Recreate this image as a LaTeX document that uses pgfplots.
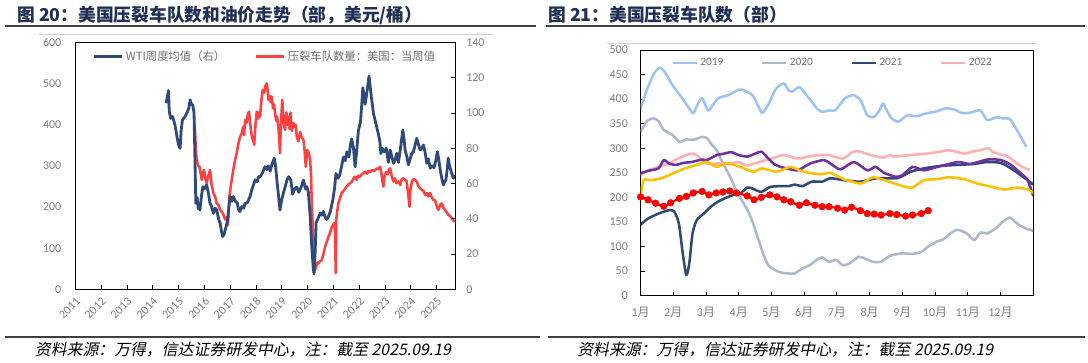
\documentclass[border=0pt]{standalone}
\usepackage{fontspec}
\setmainfont{Carlito}
\newfontfamily\cjk{Noto Sans CJK SC}
\newfontfamily\cjksl[FakeSlant=0.2]{Noto Sans CJK SC}
\usepackage{pgfplots}
\pgfplotsset{compat=1.18}
\definecolor{cWTI}{HTML}{2F4A7A}
\definecolor{cRed}{HTML}{FF4040}
\definecolor{cTick}{HTML}{808080}
\definecolor{cLeg}{HTML}{707070}
\definecolor{cTitle}{HTML}{1F3056}
\definecolor{cRule}{HTML}{404040}
\definecolor{cFrame}{HTML}{D0D0D0}
\definecolor{c19}{HTML}{9DC3F5}
\definecolor{c20}{HTML}{ADB9CA}
\definecolor{c21}{HTML}{2F4A7A}
\definecolor{c22}{HTML}{FFB0B0}
\definecolor{c23}{HTML}{7030A0}
\definecolor{c24}{HTML}{FFC000}
\definecolor{c25}{HTML}{FF0000}
\pgfplotsset{base/.style={
  scale only axis,
  axis line style={black, line width=0.6pt},
  tick style={black, line width=0.6pt},
  ticklabel style={font=\fontsize{9}{10}\selectfont, text=cTick},
  /pgf/number format/assume math mode=true,
  /pgf/number format/1000 sep={},
  tick align=inside,
  major tick length=3pt,
}}
\begin{document}
\begin{tikzpicture}
\useasboundingbox (0,0) rectangle (816pt,272.25pt);
\fill[white] (0,0) rectangle (816pt,272.25pt);
% titles
\node[anchor=west, inner sep=0, text=cTitle, font=\cjk\bfseries\fontsize{13.3}{15}\selectfont] at (12.75pt,261pt) {图 20：美国压裂车队数和油价走势（部，美元/桶）};
\draw[cRule, line width=0.9pt] (3.75pt,252.75pt) -- (402pt,252.75pt);
\node[anchor=west, inner sep=0, text=cTitle, font=\cjk\bfseries\fontsize{13.3}{15}\selectfont] at (411pt,261pt) {图 21：美国压裂车队数（部）};
\draw[cRule, line width=0.9pt] (409.5pt,252.75pt) -- (813.75pt,252.75pt);
\draw[cFrame, line width=0.75pt] (29.4pt,246.5pt) -- (370pt,246.5pt);
\draw[cFrame, line width=0.75pt] (454.9pt,239.8pt) -- (778pt,239.8pt);
% footers
\draw[cRule, line width=0.9pt] (3.75pt,19.5pt) -- (405pt,19.5pt);
\draw[cRule, line width=0.9pt] (411pt,19.5pt) -- (813.75pt,19.5pt);
\node[anchor=west, inner sep=0, font=\cjksl\fontsize{11.9}{13}\selectfont] at (26pt,9.75pt) {资料来源：万得，信达证券研发中心，注：截至 2025.09.19};
\node[anchor=west, inner sep=0, font=\cjksl\fontsize{11.9}{13}\selectfont] at (432.75pt,9.75pt) {资料来源：万得，信达证券研发中心，注：截至 2025.09.19};

% ---------------- left chart, left axis (frac spread count)
\begin{axis}[base,
  at={(56.5pt,55.3pt)}, anchor=south west, width=284.7pt, height=185pt,
  xmin=2011, xmax=2025.71, ymin=0, ymax=600,
  xtick={2011,2012,...,2025}, ytick={0,100,...,600},
  xtick pos=bottom, ytick pos=left,
  ytick style={draw=none},
  yticklabel shift=7pt,
  xticklabel shift=4pt,
  xticklabel style={rotate=45, anchor=north east, inner sep=1pt},
]
\addplot[cRed, line width=1.9pt, line join=round] coordinates {
(2015.61,404)(2015.64,380)(2015.68,330)(2015.71,315)(2015.76,300)(2015.81,298)(2015.86,280)(2015.90,266)(2015.95,285)(2015.99,290)
(2016.04,270)(2016.09,258)(2016.15,275)(2016.22,290)(2016.28,255)(2016.35,234)(2016.42,225)(2016.48,209)(2016.55,205)(2016.61,193)
(2016.68,188)(2016.74,181)(2016.80,170)(2016.85,175)(2016.91,156)(2016.94,190)(2016.97,225)(2017.02,250)(2017.06,266)(2017.12,290)
(2017.19,315)(2017.25,330)(2017.32,355)(2017.38,370)(2017.45,380)(2017.50,395)(2017.54,375)(2017.58,412)(2017.64,405)(2017.68,425)
(2017.73,432)(2017.78,400)(2017.84,371)(2017.90,360)(2017.93,351)(2017.98,400)(2018.03,432)(2018.08,415)(2018.12,430)(2018.16,420)
(2018.21,460)(2018.26,485)(2018.32,478)(2018.37,495)(2018.42,501)(2018.45,485)(2018.48,461)(2018.53,470)(2018.57,455)(2018.61,469)
(2018.66,440)(2018.70,450)(2018.74,428)(2018.78,410)(2018.82,420)(2018.87,392)(2018.90,370)(2018.93,331)(2018.96,390)(2019.00,440)
(2019.02,461)(2019.06,420)(2019.09,395)(2019.13,388)(2019.18,430)(2019.22,400)(2019.26,420)(2019.30,390)(2019.34,430)(2019.39,385)
(2019.45,404)(2019.50,395)(2019.54,400)(2019.58,371)(2019.64,360)(2019.71,383)(2019.77,370)(2019.84,363)(2019.88,340)(2019.93,298)
(2019.99,339)(2020.05,330)(2020.10,315)(2020.13,280)(2020.16,217)(2020.20,150)(2020.23,104)(2020.26,70)(2020.29,47)(2020.33,55)
(2020.38,65)(2020.42,63)(2020.48,68)(2020.55,71)(2020.61,85)(2020.68,104)(2020.74,115)(2020.81,128)(2020.86,135)(2020.94,152)
(2021.00,158)(2021.03,161)(2021.06,150)(2021.09,39)(2021.11,170)(2021.15,190)(2021.19,209)(2021.25,220)(2021.32,234)(2021.40,240)
(2021.46,245)(2021.52,250)(2021.58,255)(2021.65,258)(2021.72,262)(2021.78,270)(2021.84,274)(2021.90,266)(2021.96,276)(2022.04,274)
(2022.10,280)(2022.16,282)(2022.23,286)(2022.30,281)(2022.36,288)(2022.42,285)(2022.50,290)(2022.56,287)(2022.62,290)(2022.68,294)
(2022.74,292)(2022.81,298)(2022.86,282)(2022.90,262)(2022.94,250)(2022.98,275)(2023.04,285)(2023.10,280)(2023.16,292)(2023.20,294)
(2023.26,275)(2023.33,262)(2023.38,270)(2023.44,258)(2023.52,262)(2023.59,254)(2023.65,268)(2023.71,270)(2023.78,266)(2023.84,262)
(2023.90,230)(2023.95,201)(2023.98,240)(2024.04,262)(2024.10,268)(2024.17,266)(2024.23,262)(2024.30,250)(2024.36,246)(2024.42,242)
(2024.48,240)(2024.56,229)(2024.62,234)(2024.68,226)(2024.75,234)(2024.82,222)(2024.88,217)(2024.94,217)(2025.01,201)(2025.07,193)
(2025.14,205)(2025.20,209)(2025.26,198)(2025.33,193)(2025.39,188)(2025.45,181)(2025.52,178)(2025.59,173)(2025.64,168)(2025.69,164)
};
\end{axis}
% ---------------- left chart, right axis (WTI)
\begin{axis}[base,
  at={(56.5pt,55.3pt)}, anchor=south west, width=284.7pt, height=185pt,
  xmin=2011, xmax=2025.71, ymin=0, ymax=140,
  ytick={0,20,...,140},
  axis x line=none, axis y line*=right,
  ytick pos=right, yticklabel pos=right,
  yticklabel shift=5pt,
  legend style={at={(0.5,1)}, anchor=north, yshift=-2pt, draw=none, fill=none,
    legend columns=2, font=\cjk\fontsize{8.5}{10}\selectfont, text=cLeg,
    /tikz/every even column/.append style={column sep=20pt}},
  legend image code/.code={\draw[#1] (0pt,0pt) -- (21pt,0pt);},
]
\addplot[cWTI, line width=2.1pt, line join=round] coordinates {
(2014.52,105.6)(2014.61,112.8)(2014.64,100.8)(2014.70,97)(2014.77,98.0)(2014.86,93.3)(2014.95,85.7)(2015.00,82)(2015.06,80.0)(2015.10,90)
(2015.15,96.1)(2015.25,98)(2015.32,99.9)(2015.40,103)(2015.45,107.5)(2015.50,105)(2015.55,104.6)(2015.60,100)(2015.64,70)(2015.67,48.8)
(2015.72,52)(2015.76,46)(2015.83,45.0)(2015.88,52)(2015.94,58.2)(2016.00,57)(2016.09,59.2)(2016.15,55)(2016.22,48.8)(2016.28,47)
(2016.35,43.1)(2016.42,46)(2016.48,45.0)(2016.55,40)(2016.61,37.5)(2016.66,33)(2016.71,29.9)(2016.76,31)(2016.84,35.5)(2016.90,39)
(2016.95,47)(2017.00,52.6)(2017.06,50)(2017.12,52.6)(2017.20,50)(2017.28,48.8)(2017.33,45)(2017.38,44.1)(2017.45,47)(2017.52,46)
(2017.58,48.8)(2017.66,49)(2017.72,51)(2017.77,52.6)(2017.85,57)(2017.92,60)(2017.97,62.1)(2018.05,61)(2018.10,64)(2018.16,63.9)
(2018.25,66)(2018.35,69.6)(2018.42,68)(2018.48,70)(2018.55,67)(2018.62,71)(2018.71,74.4)(2018.76,70)(2018.81,62.1)(2018.86,55)
(2018.93,45.0)(2019.00,51)(2019.06,54.5)(2019.13,58)(2019.20,62)(2019.26,63.9)(2019.35,62)(2019.42,54)(2019.50,57)(2019.58,58)
(2019.66,55)(2019.75,58)(2019.84,62)(2019.92,57)(2019.97,58.3)(2020.03,55)(2020.10,41.4)(2020.16,24.6)(2020.22,12)(2020.25,8.7)
(2020.29,20)(2020.33,37.7)(2020.40,40)(2020.49,43.3)(2020.55,42)(2020.61,44.2)(2020.68,41)(2020.74,39.6)(2020.80,41)(2020.88,44)
(2020.98,50.8)(2021.05,58)(2021.10,65.7)(2021.18,63)(2021.25,65)(2021.32,70)(2021.39,75.1)(2021.46,73)(2021.52,78)(2021.60,75)
(2021.66,82)(2021.71,85.4)(2021.78,80)(2021.84,69.5)(2021.90,78)(2021.97,90.1)(2022.05,95)(2022.10,105)(2022.14,114.4)(2022.19,110)
(2022.23,105)(2022.30,112)(2022.38,121)(2022.44,113)(2022.49,107)(2022.55,100)(2022.62,95.7)(2022.68,92)(2022.74,88.2)(2022.80,84)
(2022.84,77)(2022.90,80)(2022.97,78)(2023.05,80)(2023.13,72)(2023.20,79)(2023.25,76)(2023.33,71.5)(2023.40,74)(2023.46,77.2)
(2023.52,72)(2023.60,80)(2023.69,90.4)(2023.74,85)(2023.78,79.1)(2023.85,75)(2023.91,70.6)(2023.97,74)(2024.04,77.2)(2024.10,78)
(2024.17,82)(2024.23,85.7)(2024.30,82)(2024.36,79.1)(2024.42,80)(2024.49,81.9)(2024.55,78)(2024.62,71.5)(2024.68,74)(2024.75,68.7)
(2024.82,70)(2024.90,69)(2024.97,73)(2025.03,78.1)(2025.08,74)(2025.14,67.7)(2025.20,63)(2025.26,59.2)(2025.31,61)(2025.36,62.1)
(2025.41,68)(2025.45,74.4)(2025.50,70)(2025.55,67.7)(2025.60,65)(2025.65,63.0)(2025.69,64.9)
};
\addlegendentry{WTI周度均值（右）}
\addlegendimage{cRed, line width=1.9pt}
\addlegendentry{压裂车队数量：美国：当周值}
\end{axis}

% ---------------- right chart
\begin{axis}[base,
  at={(480.4pt,50.5pt)}, anchor=south west, width=294.5pt, height=184.3pt,
  xmin=0, xmax=12, ymin=0, ymax=500,
  ytick={0,50,...,500},
  xtick={0,1,...,11},
  xticklabels={1{\cjk 月},2{\cjk 月},3{\cjk 月},4{\cjk 月},5{\cjk 月},6{\cjk 月},7{\cjk 月},8{\cjk 月},9{\cjk 月},10{\cjk 月},11{\cjk 月},12{\cjk 月}},
  xtick pos=bottom, ytick pos=left,
  yticklabel shift=6pt,
  xticklabel shift=5pt,
  legend style={at={(0.49,1)}, anchor=north, yshift=-2pt, draw=none, fill=none,
    legend columns=4, font=\fontsize{8.5}{10}\selectfont, text=cLeg,
    /tikz/every even column/.append style={column sep=26pt}},
  legend image code/.code={\draw[#1] (0pt,0pt) -- (18pt,0pt);},
  every axis plot/.append style={line width=1.9pt, smooth, tension=0.4, line join=round},
]
\addplot[c19] coordinates {
(0,381)(0.23,425)(0.44,455)(0.6,464)(0.74,455)(0.98,428)(1.24,405)(1.49,381)(1.61,371)(1.75,390)(1.88,402)(2.0,385)(2.09,377)
(2.36,401)(2.68,408)(3.0,419)(3.15,418)(3.42,408)(3.6,385)(3.72,372)(3.9,388)(4.14,421)(4.38,432)(4.5,420)(4.62,415)(4.86,424)
(5.12,404)(5.39,381)(5.55,374)(5.76,377)(5.95,377)(6.24,401)(6.5,408)(6.72,398)(6.93,367)(7.14,364)(7.3,377)(7.41,391)(7.5,380)
(7.67,361)(7.88,354)(8.15,367)(8.42,365)(8.74,371)(9.05,375)(9.32,381)(9.58,379)(9.8,372)(10.06,372)(10.38,377)(10.6,357)
(10.86,363)(11.07,361)(11.29,359)(11.5,337)(11.79,303)
};
\addlegendentry{2019}
\addplot[c20] coordinates {
(0,333)(0.18,354)(0.39,361)(0.55,355)(0.71,337)(0.98,327)(1.19,313)(1.40,318)(1.61,317)(1.88,323)(2.03,320)(2.2,305)(2.33,296)
(2.52,269)(2.74,242)(2.95,210)(3.15,188)(3.3,170)(3.45,145)(3.6,115)(3.75,85)(3.9,62)(4.11,52)(4.3,47)(4.48,45.5)(4.7,45)
(4.96,56)(5.17,62)(5.39,73)(5.55,78)(5.76,69)(5.97,73)(6.18,62)(6.4,66)(6.66,79)(6.85,76)(7.09,69)(7.35,69)(7.62,81)(7.98,86)
(8.31,85)(8.58,89)(8.79,100)(9.05,110)(9.27,115)(9.48,127)(9.69,134)(9.96,127)(10.2,113)(10.38,128)(10.6,127)(10.86,137)
(11.07,150)(11.29,159)(11.5,147)(11.76,137)(12.0,132)
};
\addlegendentry{2020}
\addplot[c21] coordinates {
(0,144)(0.23,157)(0.55,167)(0.87,174)(1.03,171)(1.17,147)(1.29,86)(1.40,42)(1.49,66)(1.59,127)(1.72,154)(1.93,167)(2.15,181)
(2.36,191)(2.57,198)(2.84,205)(3.05,208)(3.26,220)(3.42,218)(3.69,211)(3.95,221)(4.27,223)(4.54,223)(4.7,226)(4.96,223)
(5.23,232)(5.55,232)(5.8,239)(6.21,235)(6.72,232)(7.23,239)(7.85,239)(8.25,252)(8.66,259)(9.17,264)(9.68,266)(10.19,268)
(10.6,272)(11.01,270)(11.32,259)(11.62,245)(11.83,235)(12.0,226)
};
\addlegendentry{2021}
\addplot[c22] coordinates {
(0,245)(0.23,255)(0.55,262)(0.87,269)(1.14,279)(1.40,286)(1.61,289)(1.77,283)(1.93,272)(2.1,268)(2.36,269)(2.74,269)(3.0,272)
(3.26,265)(3.63,272)(4.0,279)(4.38,286)(4.8,279)(5.12,283)(5.44,286)(5.76,286)(6.18,279)(6.5,293)(6.72,293)(7.04,286)(7.41,281)
(7.62,286)(7.78,283)(8.2,286)(8.74,289)(9.16,293)(9.42,296)(9.64,293)(9.9,289)(10.12,293)(10.38,296)(10.63,300)(10.75,293)
(10.96,288)(11.23,283)(11.5,269)(11.76,259)(11.9,256)
};
\addlegendentry{2022}
\addplot[c23, forget plot] coordinates {
(0,249)(0.23,254)(0.55,259)(0.71,276)(0.87,269)(1.08,266)(1.30,270)(1.56,272)(1.88,277)(2.03,276)(2.33,286)(2.55,289)(2.78,292)
(3.0,286)(3.26,283)(3.47,288)(3.69,293)(3.85,283)(4.06,269)(4.27,262)(4.48,259)(4.8,255)(5.19,269)(5.6,276)(5.8,269)(6.11,257)
(6.52,272)(6.93,255)(7.18,262)(7.44,250)(7.79,242)(8.0,245)(8.31,262)(8.66,255)(9.07,262)(9.43,268)(9.73,272)(10.09,268)
(10.6,277)(11.01,276)(11.32,266)(11.62,249)(11.83,235)(12.0,203)
};
\addplot[c24, forget plot] coordinates {
(0,201)(0.09,235)(0.29,235)(0.65,239)(1.0,249)(1.36,259)(1.72,266)(2.03,272)(2.33,262)(2.64,269)(3.05,262)(3.45,252)(3.71,259)
(4.17,252)(4.58,262)(4.99,252)(5.5,247)(5.8,250)(6.21,237)(6.72,228)(6.93,235)(7.13,241)(7.59,232)(8.05,222)(8.31,220)(8.66,235)
(9.07,237)(9.43,241)(9.89,237)(10.3,228)(10.7,222)(11.11,216)(11.52,220)(11.83,216)(12.0,209)
};
\addplot[c25, forget plot, line width=1.6pt, mark=*, mark size=2.5pt, mark options={solid, fill=c25, draw=c25, line width=0.4pt}] coordinates {
(0,201)(0.23,195)(0.46,188)(0.71,182)(0.92,189)(1.19,198)(1.40,202)(1.61,209)(1.88,212)(2.09,205)(2.31,209)(2.52,211)(2.73,213)
(2.94,209)(3.26,203)(3.47,195)(3.69,200)(3.95,205)(4.17,201)(4.38,195)(4.59,191)(4.85,184)(5.07,189)(5.33,184)(5.55,181)(5.76,181)
(6.02,178)(6.24,174)(6.45,180)(6.72,173)(6.93,167)(7.14,166)(7.35,164)(7.62,167)(7.83,165)(8.1,162)(8.31,164)(8.58,167)(8.79,173)
};
\end{axis}
\end{tikzpicture}
\end{document}
